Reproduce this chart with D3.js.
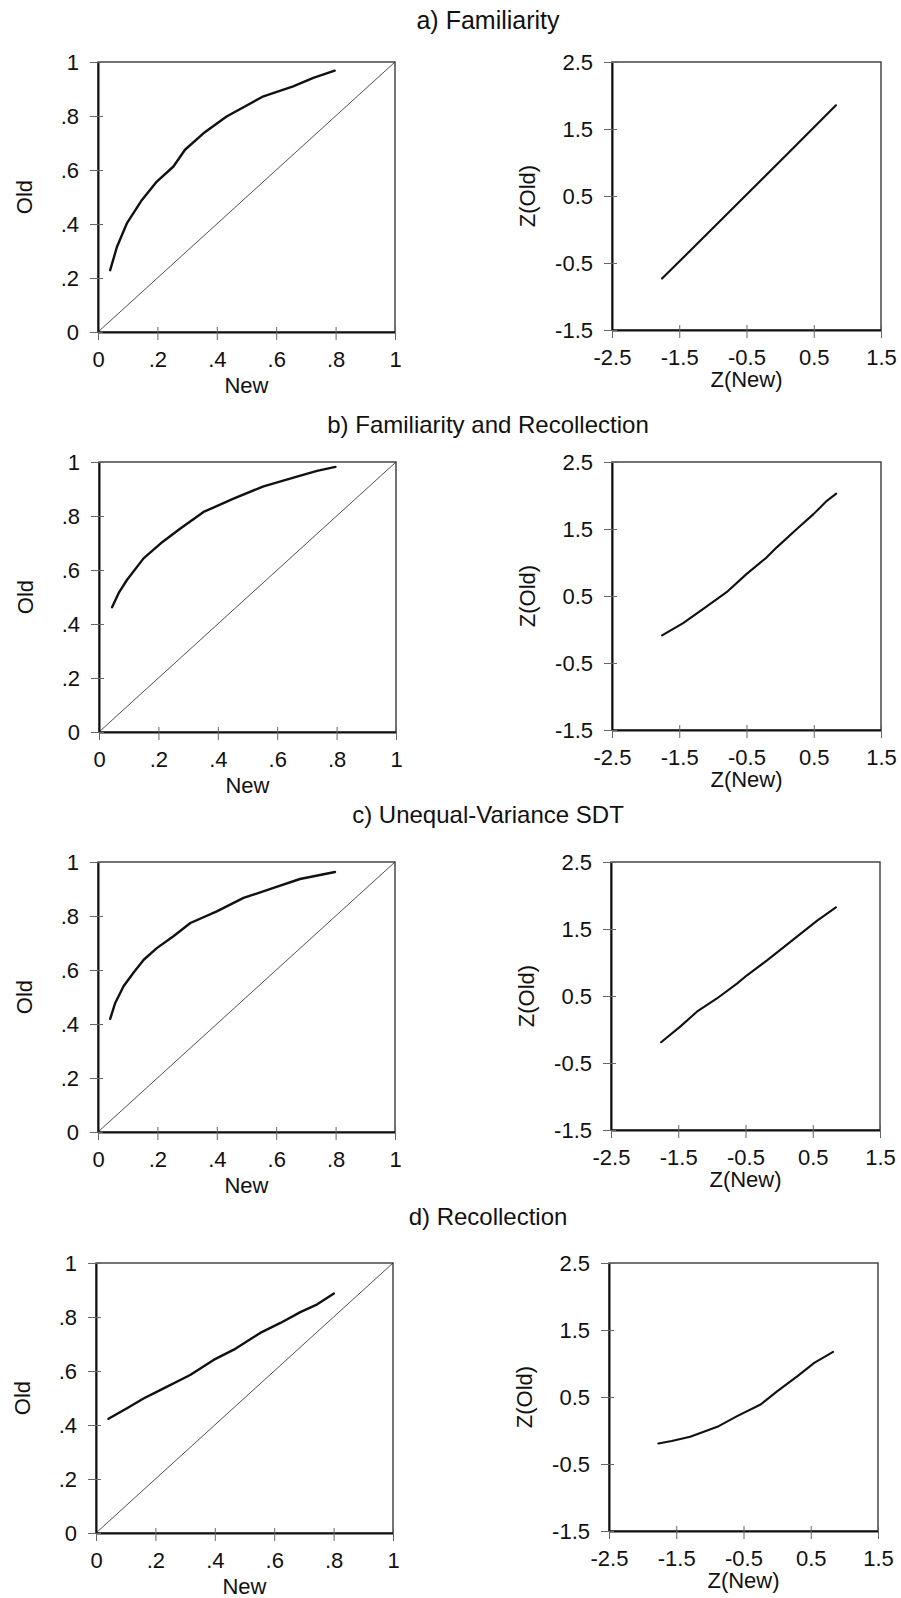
<!DOCTYPE html>
<html>
<head>
<meta charset="utf-8">
<script src="https://cdn.jsdelivr.net/npm/d3@7/dist/d3.min.js"></script>
<style>
    body { margin: 0; background: #fff; }
    text { font-family: "Liberation Sans", Arial, sans-serif; fill: #111; }
</style>
</head>
<body>
<div id="chart"></div>
<script>
var panelTitles = ["a) Familiarity", "b) Familiarity and Recollection", "c) Unequal-Variance SDT", "d) Recollection"];

var probTicks = [0, 0.2, 0.4, 0.6, 0.8, 1];
var probTickLabels = ["0", ".2", ".4", ".6", ".8", "1"];
var zTicksX = [-2.5, -1.5, -0.5, 0.5, 1.5];
var zTicksY = [-1.5, -0.5, 0.5, 1.5, 2.5];
var zTickLabelsX = ["-2.5", "-1.5", "-0.5", "0.5", "1.5"];
var zTickLabelsY = ["-1.5", "-0.5", "0.5", "1.5", "2.5"];
var diagonal = [0, 1];

// ROC: p(new -> "old") vs p(old -> "old")
var famNew = [0.041, 0.064, 0.097, 0.148, 0.198, 0.254, 0.293, 0.355, 0.433, 0.557, 0.657, 0.725, 0.797];
var famOld = [0.229, 0.316, 0.402, 0.489, 0.557, 0.613, 0.675, 0.736, 0.798, 0.873, 0.910, 0.941, 0.968];
var famRecNew = [0.044, 0.066, 0.094, 0.150, 0.207, 0.274, 0.352, 0.453, 0.554, 0.655, 0.734, 0.796];
var famRecOld = [0.462, 0.514, 0.563, 0.643, 0.698, 0.754, 0.815, 0.864, 0.910, 0.942, 0.967, 0.982];
var uvsdNew = [0.041, 0.058, 0.086, 0.120, 0.154, 0.198, 0.254, 0.311, 0.400, 0.490, 0.591, 0.680, 0.798];
var uvsdOld = [0.419, 0.478, 0.540, 0.591, 0.638, 0.681, 0.725, 0.774, 0.817, 0.867, 0.904, 0.937, 0.963];
var recNew = [0.042, 0.103, 0.160, 0.216, 0.317, 0.396, 0.464, 0.553, 0.621, 0.688, 0.745, 0.801];
var recOld = [0.423, 0.461, 0.498, 0.529, 0.585, 0.641, 0.679, 0.741, 0.778, 0.818, 0.847, 0.887];

// zROC
var famZNew = [-1.756, -1.20, -0.55, 0.10, 0.83];
var famZOld = [-0.733, -0.18, 0.47, 1.12, 1.853];
var famRecZNew = [-1.755, -1.442, -1.143, -0.796, -0.497, -0.199, -0.050, 0.248, 0.496, 0.695, 0.834];
var famRecZOld = [-0.087, 0.096, 0.309, 0.557, 0.830, 1.077, 1.226, 1.499, 1.722, 1.920, 2.029];
var uvsdZNew = [-1.755, -1.471, -1.223, -0.925, -0.627, -0.478, -0.180, 0.069, 0.317, 0.566, 0.844];
var uvsdZOld = [-0.190, 0.043, 0.265, 0.463, 0.685, 0.809, 1.031, 1.229, 1.427, 1.625, 1.823];
var recZNew = [-1.767, -1.567, -1.293, -0.869, -0.595, -0.246, 0.004, 0.303, 0.552, 0.832];
var recZOld = [-0.193, -0.158, -0.094, 0.065, 0.214, 0.388, 0.587, 0.811, 1.009, 1.173];

var rocX = [famNew, famRecNew, uvsdNew, recNew],
    rocY = [famOld, famRecOld, uvsdOld, recOld],
    zX = [famZNew, famRecZNew, uvsdZNew, recZNew],
    zY = [famZOld, famRecZOld, uvsdZOld, recZOld];

var v = 901,
    h = 1598;

// box positions of each row
var rowTop = [62, 462, 862, 1263],
    titleY = [29, 433, 823, 1225],
    leftX = [98, 99, 98, 96],
    rightX = [612, 612, 611, 609],
    leftW = 297, rightW = 269,
    boxH = 270;

var svg = d3.select("#chart").append("svg")
    .attr("width", v)
    .attr("height", h);

function zip(xs, ys) {
    return xs.map(function (d, i) { return [d, ys[i]]; });
}

function drawPanel(params) {
    var g = this;
    var x = d3.scaleLinear().domain(params.xDomain).range([0, params.width]),
        y = d3.scaleLinear().domain(params.yDomain).range([params.height, 0]);

    // frame
    g.append("rect")
        .attr("width", params.width)
        .attr("height", params.height)
        .attr("fill", "none")
        .attr("stroke", "#3a3a3a")
        .attr("stroke-width", 1.4);

    var xAxis = d3.axisBottom(x)
        .tickValues(params.xTicks)
        .tickFormat(function (d, i) { return params.xLabels[i]; })
        .tickSize(8).tickSizeOuter(0).tickPadding(11);
    var yAxis = d3.axisLeft(y)
        .tickValues(params.yTicks)
        .tickFormat(function (d, i) { return params.yLabels[i]; })
        .tickSize(8).tickSizeOuter(0).tickPadding(11);

    var gx = g.append("g")
        .attr("class", "axis x")
        .attr("transform", "translate(0," + params.height + ")")
        .call(xAxis);
    var gy = g.append("g")
        .attr("class", "axis y")
        .call(yAxis);

    [gx, gy].forEach(function (a) {
        a.select(".domain").attr("stroke", "#111").attr("stroke-width", 2);
        a.selectAll(".tick line").attr("stroke", "#666").attr("stroke-width", 1);
        a.selectAll(".tick text")
            .style("font-size", "22px")
            .attr("fill", "#111");
    });
    // small inner part of the ticks
    gx.selectAll(".tick").append("line").attr("y2", -5).attr("stroke", "#666");
    gy.selectAll(".tick").append("line").attr("x2", 5).attr("stroke", "#666");

    //x label
    g.append("text")
        .attr("x", params.width / 2)
        .attr("y", params.height + params.xLabelDy)
        .style("text-anchor", "middle")
        .style("font-size", "22px")
        .text(params.xTitle);
    //y label
    g.append("text")
        .style("text-anchor", "middle")
        .style("font-size", "22px")
        .attr("transform", "translate(" + params.yLabelDx + "," + params.height / 2 + ") rotate(-90)")
        .text(params.yTitle);

    var line = d3.line()
        .x(function (d) { return x(d[0]); })
        .y(function (d) { return y(d[1]); });

    if (params.diag) {
        g.append("path")
            .datum(zip(diagonal, diagonal))
            .attr("d", line)
            .attr("fill", "none")
            .attr("stroke", "#222")
            .attr("stroke-width", 0.8);
    }

    g.append("path")
        .datum(zip(params.xs, params.ys))
        .attr("d", line)
        .attr("fill", "none")
        .attr("stroke", "#111")
        .attr("stroke-width", params.lineWidth)
        .attr("stroke-linejoin", "round")
        .attr("stroke-linecap", "round");
}

panelTitles.forEach(function (title, i) {
    svg.append("text")
        .attr("x", 488)
        .attr("y", titleY[i])
        .style("text-anchor", "middle")
        .style("font-size", i == 0 ? "25px" : "24px")
        .text(title);

    var left = svg.append("g")
        .attr("transform", "translate(" + leftX[i] + "," + rowTop[i] + ")");
    drawPanel.call(left, {
        width: leftW, height: boxH,
        xDomain: [0, 1], yDomain: [0, 1],
        xTicks: probTicks, yTicks: probTicks,
        xLabels: probTickLabels, yLabels: probTickLabels,
        xTitle: "New", yTitle: "Old",
        xLabelDy: 61, yLabelDx: -66,
        xs: rocX[i], ys: rocY[i],
        diag: true, lineWidth: 2.4
    });

    var right = svg.append("g")
        .attr("transform", "translate(" + rightX[i] + "," + rowTop[i] + ")");
    drawPanel.call(right, {
        width: rightW, height: boxH - 2,
        xDomain: [-2.5, 1.5], yDomain: [-1.5, 2.5],
        xTicks: zTicksX, yTicks: zTicksY,
        xLabels: zTickLabelsX, yLabels: zTickLabelsY,
        xTitle: "Z(New)", yTitle: "Z(Old)",
        xLabelDy: 57, yLabelDx: -77,
        xs: zX[i], ys: zY[i],
        diag: false, lineWidth: 2.1
    });
});
</script>
</body>
</html>
